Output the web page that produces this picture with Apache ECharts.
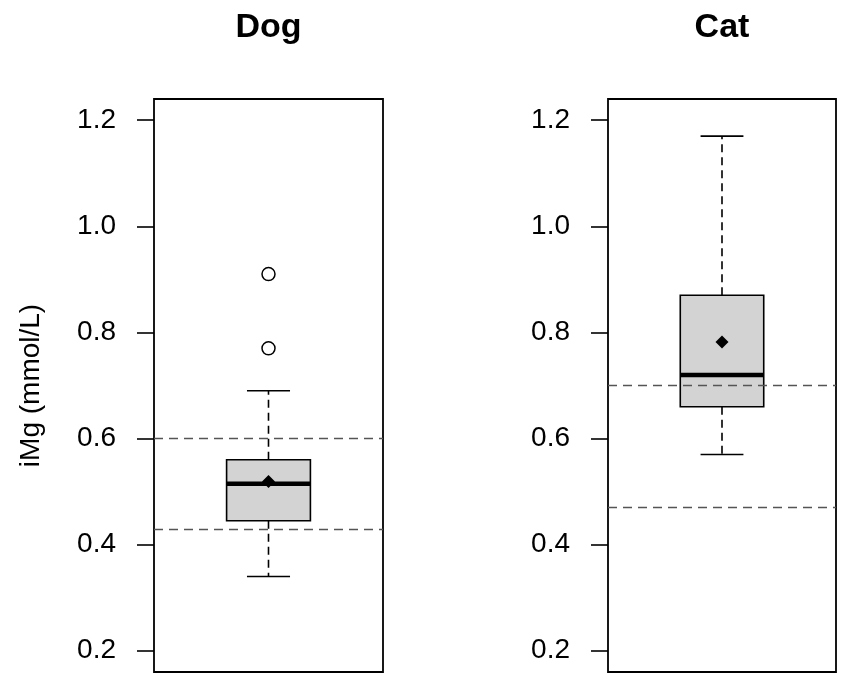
<!DOCTYPE html>
<html>
<head>
<meta charset="utf-8">
<script src="https://cdn.jsdelivr.net/npm/echarts@6/dist/echarts.min.js"></script>
<style>
  html, body { margin: 0; padding: 0; background: #fff; }
  #chart { width: 850px; height: 683px; }
</style>
</head>
<body>
<div id="chart"></div>
<script>
// values (iMg, mmol/L)
var groups = ['Dog', 'Cat'];
var lowerWhisker = [0.34, 0.57];
var q1 = [0.445, 0.66];
var median = [0.515, 0.72];
var q3 = [0.56, 0.87];
var upperWhisker = [0.69, 1.17];
var means = [0.519, 0.782];
var outliers = [[0.77, 0.91], []];
var refLines = [[0.43, 0.60], [0.47, 0.70]];
var yTicks = [0.2, 0.4, 0.6, 0.8, 1.0, 1.2];

var font = 'Liberation Sans, Arial, Helvetica, sans-serif';
var chart = echarts.init(document.getElementById('chart'));

// draws one R-style box: grey box, thick median, dashed whiskers, short caps
function renderBox(params, api) {
    var cat = api.value(0);
    var band = api.size([1, 0])[0];
    var boxHalf = band * 0.183;
    var capHalf = band * 0.094;
    var x = api.coord([cat, api.value(3)])[0];
    var yLw = api.coord([cat, api.value(1)])[1];
    var yQ1 = api.coord([cat, api.value(2)])[1];
    var yMed = api.coord([cat, api.value(3)])[1];
    var yQ3 = api.coord([cat, api.value(4)])[1];
    var yUw = api.coord([cat, api.value(5)])[1];
    var thin = { stroke: '#000', lineWidth: 1.6 };
    var dashed = { stroke: '#000', lineWidth: 1.6, lineDash: [8, 5] };
    return {
        type: 'group',
        children: [
            { type: 'line', shape: { x1: x, y1: yQ3, x2: x, y2: yUw }, style: dashed },
            { type: 'line', shape: { x1: x, y1: yQ1, x2: x, y2: yLw }, style: dashed },
            { type: 'line', shape: { x1: x - capHalf, y1: yUw, x2: x + capHalf, y2: yUw }, style: thin },
            { type: 'line', shape: { x1: x - capHalf, y1: yLw, x2: x + capHalf, y2: yLw }, style: thin },
            { type: 'rect', shape: { x: x - boxHalf, y: yQ3, width: boxHalf * 2, height: yQ1 - yQ3 },
              style: { fill: '#d3d3d3', stroke: '#000', lineWidth: 1.6 } },
            { type: 'line', shape: { x1: x - boxHalf, y1: yMed, x2: x + boxHalf, y2: yMed },
              style: { stroke: '#000', lineWidth: 4.5 } }
        ]
    };
}

var grids = [
    { left: 154, width: 229, top: 99, height: 573 },
    { left: 608, width: 228, top: 99, height: 573 }
];

var option = {
    backgroundColor: '#fff',
    animation: false,
    title: groups.map(function (g, i) {
        return {
            text: g,
            left: grids[i].left + grids[i].width / 2,
            top: 11,
            padding: 0,
            textAlign: 'center',
            textStyle: { fontFamily: font, fontSize: 34, fontWeight: 'bold', color: '#000' }
        };
    }),
    grid: grids.map(function (g) {
        return {
            left: g.left, width: g.width, top: g.top, height: g.height,
            show: true, borderColor: '#000', borderWidth: 1.8, backgroundColor: 'transparent'
        };
    }),
    xAxis: groups.map(function (g, i) {
        return {
            type: 'category', gridIndex: i, data: [g],
            axisLine: { show: false }, axisTick: { show: false }, axisLabel: { show: false },
            splitLine: { show: false }
        };
    }),
    yAxis: groups.map(function (g, i) {
        return {
            type: 'value', gridIndex: i, min: 0.16, max: 1.24,
            name: i === 0 ? 'iMg (mmol/L)' : '',
            nameLocation: 'middle', nameRotate: 90, nameGap: 109,
            nameTextStyle: { fontFamily: font, fontSize: 28, color: '#000' },
            axisLine: { show: false },
            splitLine: { show: false },
            axisTick: { show: true, customValues: yTicks, length: 17, lineStyle: { color: '#000', width: 1.6 } },
            axisLabel: {
                customValues: yTicks, margin: 38, fontFamily: font, fontSize: 28, color: '#000',
                formatter: function (v) { return v.toFixed(1); }
            }
        };
    }),
    series: []
};

groups.forEach(function (g, i) {
    option.series.push({
        type: 'custom', name: g + ' box', xAxisIndex: i, yAxisIndex: i, z: 2,
        renderItem: renderBox,
        data: [[0, lowerWhisker[i], q1[i], median[i], q3[i], upperWhisker[i]]]
    });
    option.series.push({
        type: 'scatter', name: g + ' outliers', xAxisIndex: i, yAxisIndex: i, z: 3,
        symbol: 'circle', symbolSize: 13,
        itemStyle: { color: '#fff', borderColor: '#000', borderWidth: 1.5, opacity: 1 },
        data: outliers[i].map(function (v) { return [0, v]; })
    });
    option.series.push({
        type: 'scatter', name: g + ' mean', xAxisIndex: i, yAxisIndex: i, z: 4,
        symbol: 'diamond', symbolSize: [13, 13],
        itemStyle: { color: '#000', opacity: 1 },
        data: [[0, means[i]]],
        markLine: {
            silent: true, symbol: 'none', label: { show: false },
            lineStyle: { color: '#555', width: 1.4, type: [9, 6] },
            data: refLines[i].map(function (v) { return { yAxis: v }; })
        }
    });
});

chart.setOption(option);
</script>
</body>
</html>
